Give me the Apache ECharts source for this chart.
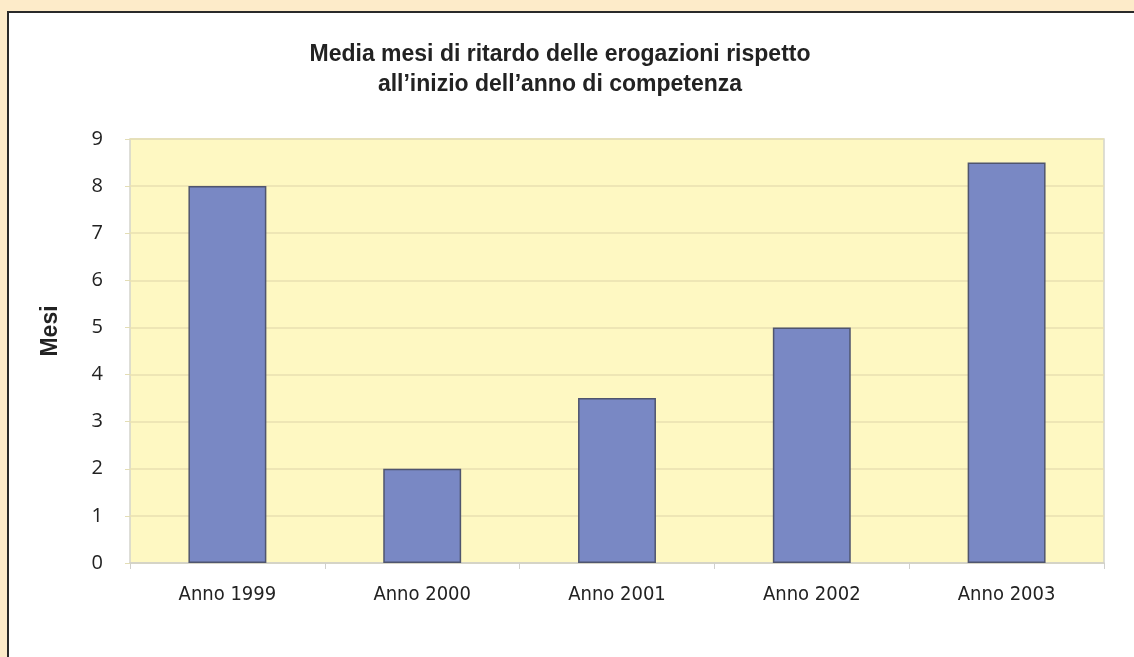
<!DOCTYPE html>
<html><head><meta charset="utf-8">
<script src="https://cdn.jsdelivr.net/npm/echarts@6/dist/echarts.min.js"></script>
<style>html,body{margin:0;padding:0;background:#fdebc9;}#c{width:1134px;height:657px;}</style>
</head><body><div id="c"></div>
<script>
const categories = ['Anno 1999','Anno 2000','Anno 2001','Anno 2002','Anno 2003'];
const values = [8, 2, 3.5, 5, 8.5];
const titleText = 'Media mesi di ritardo delle erogazioni rispetto\nall\u2019inizio dell\u2019anno di competenza';
const yName = 'Mesi';

const chart = echarts.init(document.getElementById('c'), null, {renderer:'canvas'});
chart.setOption({
  backgroundColor: '#fdebc9',
  animation: false,
  graphic: [
    {type:'rect', z:-10, shape:{x:8, y:12, width:1200, height:700}, style:{fill:'#ffffff', stroke:'#2a2a2a', lineWidth:2}},
    {type:'text', z:10, x:51, y:331, rotation:Math.PI/2, style:{text:yName, font:'bold 23px "Liberation Sans", Arial, sans-serif', fill:'#222', align:'center', verticalAlign:'middle'}}
  ],
  title: {
    text: titleText, left: 555, top: 35, textAlign: 'center',
    textStyle: {fontFamily:'"Liberation Sans", Arial, sans-serif', fontWeight:'bold', fontSize:23, lineHeight:30, color:'#222'}
  },
  grid: {left:130, right:30, top:139, bottom:94, show:true, backgroundColor:'#fef8c2', borderColor:'#d4d4cc', borderWidth:1.5, containLabel:false},
  xAxis: {
    type:'category', data: categories,
    axisLine:{show:true, lineStyle:{color:'#d0d0cc', width:1.5}},
    axisTick:{show:true, length:6, lineStyle:{color:'#d0d0cc'}},
    axisLabel:{margin:22, color:'#222', fontSize:20, fontFamily:'"DejaVu Sans Condensed", Roboto, sans-serif'}
  },
  yAxis: {
    type:'value', min:0, max:9, interval:1,
    axisLine:{show:false},
    axisTick:{show:true, length:5, lineStyle:{color:'#e3ddb5'}},
    splitLine:{lineStyle:{color:'#e8e1b0', width:1.5}},
    axisLabel:{margin:27, color:'#222', fontSize:20, fontFamily:'"Open Sans", "Liberation Sans", sans-serif'}
  },
  series: [{
    type:'bar', data: values, barWidth:'40%',
    itemStyle:{color:'#7988c4', borderColor:'#4f556e', borderWidth:1.5}
  }]
});
</script></body></html>
